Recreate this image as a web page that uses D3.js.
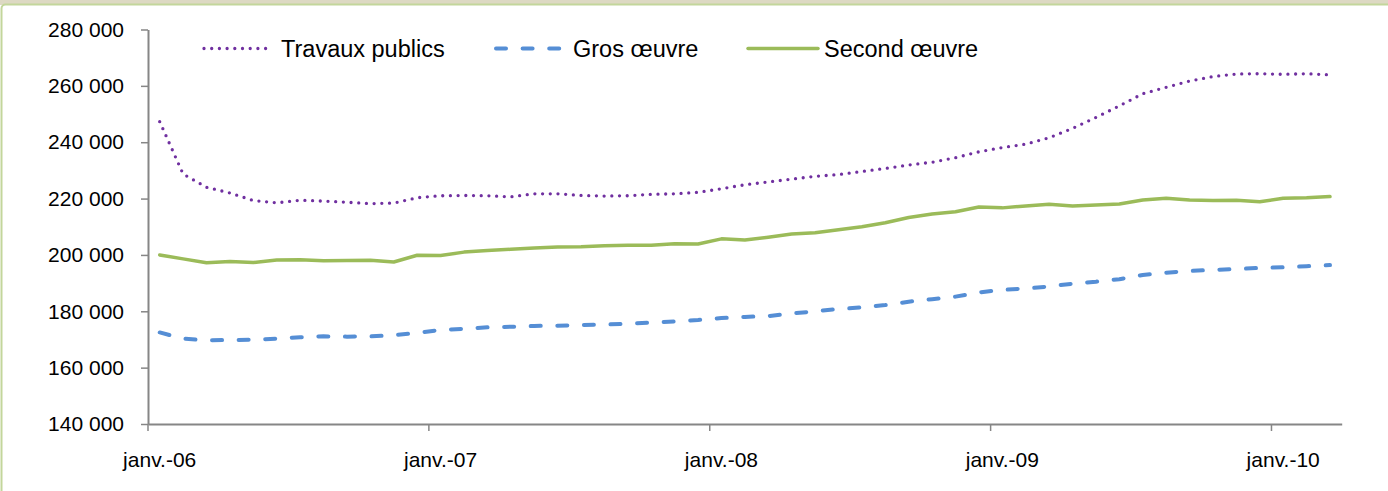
<!DOCTYPE html>
<html>
<head>
<meta charset="utf-8">
<script src="https://cdn.jsdelivr.net/npm/d3@7"></script>
<style>
  html, body { margin: 0; padding: 0; background: #ffffff; }
  svg { display: block; font-family: "Liberation Sans", Arial, sans-serif; }
</style>
</head>
<body>
<svg id="chart" width="1388" height="491"></svg>
<script>
const categories = [
  "janv.-06","févr.-06","mars-06","avr.-06","mai-06","juin-06","juil.-06","août-06","sept.-06","oct.-06","nov.-06","déc.-06",
  "janv.-07","févr.-07","mars-07","avr.-07","mai-07","juin-07","juil.-07","août-07","sept.-07","oct.-07","nov.-07","déc.-07",
  "janv.-08","févr.-08","mars-08","avr.-08","mai-08","juin-08","juil.-08","août-08","sept.-08","oct.-08","nov.-08","déc.-08",
  "janv.-09","févr.-09","mars-09","avr.-09","mai-09","juin-09","juil.-09","août-09","sept.-09","oct.-09","nov.-09","déc.-09",
  "janv.-10","févr.-10","mars-10"
];
const xTickLabels = ["janv.-06","janv.-07","janv.-08","janv.-09","janv.-10"];
const yTicks = [140000,160000,180000,200000,220000,240000,260000,280000];

const travauxPublics = [247300,228700,224000,222000,219300,218500,219400,219100,218700,218200,218400,220300,
  221000,221100,221000,220600,221700,221700,221100,220900,221000,221500,221700,222200,
  223500,224900,225900,226900,227900,228500,229600,230700,231900,232900,234500,236600,
  238100,239300,241600,244900,248800,252900,257200,259500,261700,263300,264200,264300,
  264100,264300,263900];
const grosOeuvre = [172500,170300,169700,169800,169900,170300,170800,171100,171000,171100,171500,172300,
  173400,173800,174300,174500,174800,174900,175100,175300,175600,176000,176400,176900,
  177600,178000,178300,179200,180000,180800,181400,182200,183400,184300,185200,186700,
  187600,188100,188800,189800,190500,191400,192900,193700,194300,194700,195000,195400,
  195600,196000,196400];
const secondOeuvre = [200000,198600,197200,197700,197300,198200,198300,197900,198000,198100,197500,199900,
  199800,201000,201600,202000,202500,202800,202900,203300,203400,203400,204000,203900,
  205700,205300,206300,207400,207900,208900,210000,211400,213300,214500,215300,217000,
  216700,217400,218000,217400,217700,218100,219500,220100,219500,219300,219400,218900,
  220100,220300,220700];

const seriesNames = ["Travaux publics","Gros œuvre","Second œuvre"];

const svg = d3.select("#chart");
const W = 1388, H = 491;

// frame
svg.append("rect").attr("x",0).attr("y",0).attr("width",W).attr("height",5).attr("fill","#ddd9c3");
svg.append("rect").attr("x",1.5).attr("y",4.5).attr("width",W+10).attr("height",H+10)
  .attr("rx",4).attr("fill","#ffffff").attr("stroke","#c3d69b").attr("stroke-width",2);

const x = d3.scaleBand().domain(categories).range([148, 1341.7]).padding(0);
const y = d3.scaleLinear().domain([140000, 280000]).range([424, 29.5]);
const cx = d => x(d) + x.bandwidth()/2;

const locale = d3.formatLocale({decimal: ",", thousands: " ", grouping: [3], currency: ["", " €"]});
const fmt = locale.format(",d");

const axisColor = "#868686";

// Y axis
const yAxis = svg.append("g").attr("transform","translate(148,0)")
  .call(d3.axisLeft(y).tickValues(yTicks).tickFormat(fmt).tickSize(7).tickSizeOuter(0).tickPadding(17));
yAxis.select(".domain").attr("stroke",axisColor).attr("stroke-width",2);
yAxis.selectAll(".tick line").attr("stroke",axisColor).attr("stroke-width",1.5);
yAxis.selectAll(".tick text").attr("fill","#000").style("font-size","21px")
  .style("font-family",'"Liberation Sans", Arial, sans-serif');

// X axis
const xAxis = svg.append("g").attr("transform","translate(0,424)")
  .call(d3.axisBottom(x).tickValues(xTickLabels).tickSize(0).tickSizeOuter(0).tickPadding(28));
xAxis.select(".domain").attr("stroke",axisColor).attr("stroke-width",2);
xAxis.selectAll(".tick text").attr("fill","#000").style("font-size","21px")
  .style("font-family",'"Liberation Sans", Arial, sans-serif');
// tick marks at category boundaries
xAxis.selectAll(".tickmark").data(xTickLabels).enter().append("line")
  .attr("x1", d => x(d)).attr("x2", d => x(d)).attr("y1",0).attr("y2",7)
  .attr("stroke",axisColor).attr("stroke-width",1.5);

const line = d3.line().x((d,i) => cx(categories[i])).y(d => y(d));

const styles = [
  {data: travauxPublics, color: "#7030a0", width: 3.3, dash: "0,7.7", cap: "round"},
  {data: grosOeuvre, color: "#558ed5", width: 4, dash: "10,16.6", cap: "round"},
  {data: secondOeuvre, color: "#9bbb59", width: 3.5, dash: null, cap: "round"}
];

styles.forEach(s => {
  svg.append("path").datum(s.data).attr("d", line)
    .attr("fill","none").attr("stroke", s.color).attr("stroke-width", s.width)
    .attr("stroke-linecap", s.cap).attr("stroke-linejoin","round")
    .attr("stroke-dasharray", s.dash);
});

// legend
const legendItems = [
  {x1: 204, x2: 268, tx: 281},
  {x1: 496, x2: 563, tx: 573},
  {x1: 748, x2: 818, tx: 824}
];
const ly = 48.5;
legendItems.forEach((it, i) => {
  const s = styles[i];
  svg.append("line").attr("x1", it.x1).attr("x2", it.x2).attr("y1", ly).attr("y2", ly)
    .attr("stroke", s.color).attr("stroke-width", s.width)
    .attr("stroke-linecap", s.cap).attr("stroke-dasharray", s.dash);
  svg.append("text").attr("x", it.tx).attr("y", ly + 8.5).text(seriesNames[i])
    .attr("fill","#000").style("font-size","23.5px");
});
</script>
</body>
</html>
